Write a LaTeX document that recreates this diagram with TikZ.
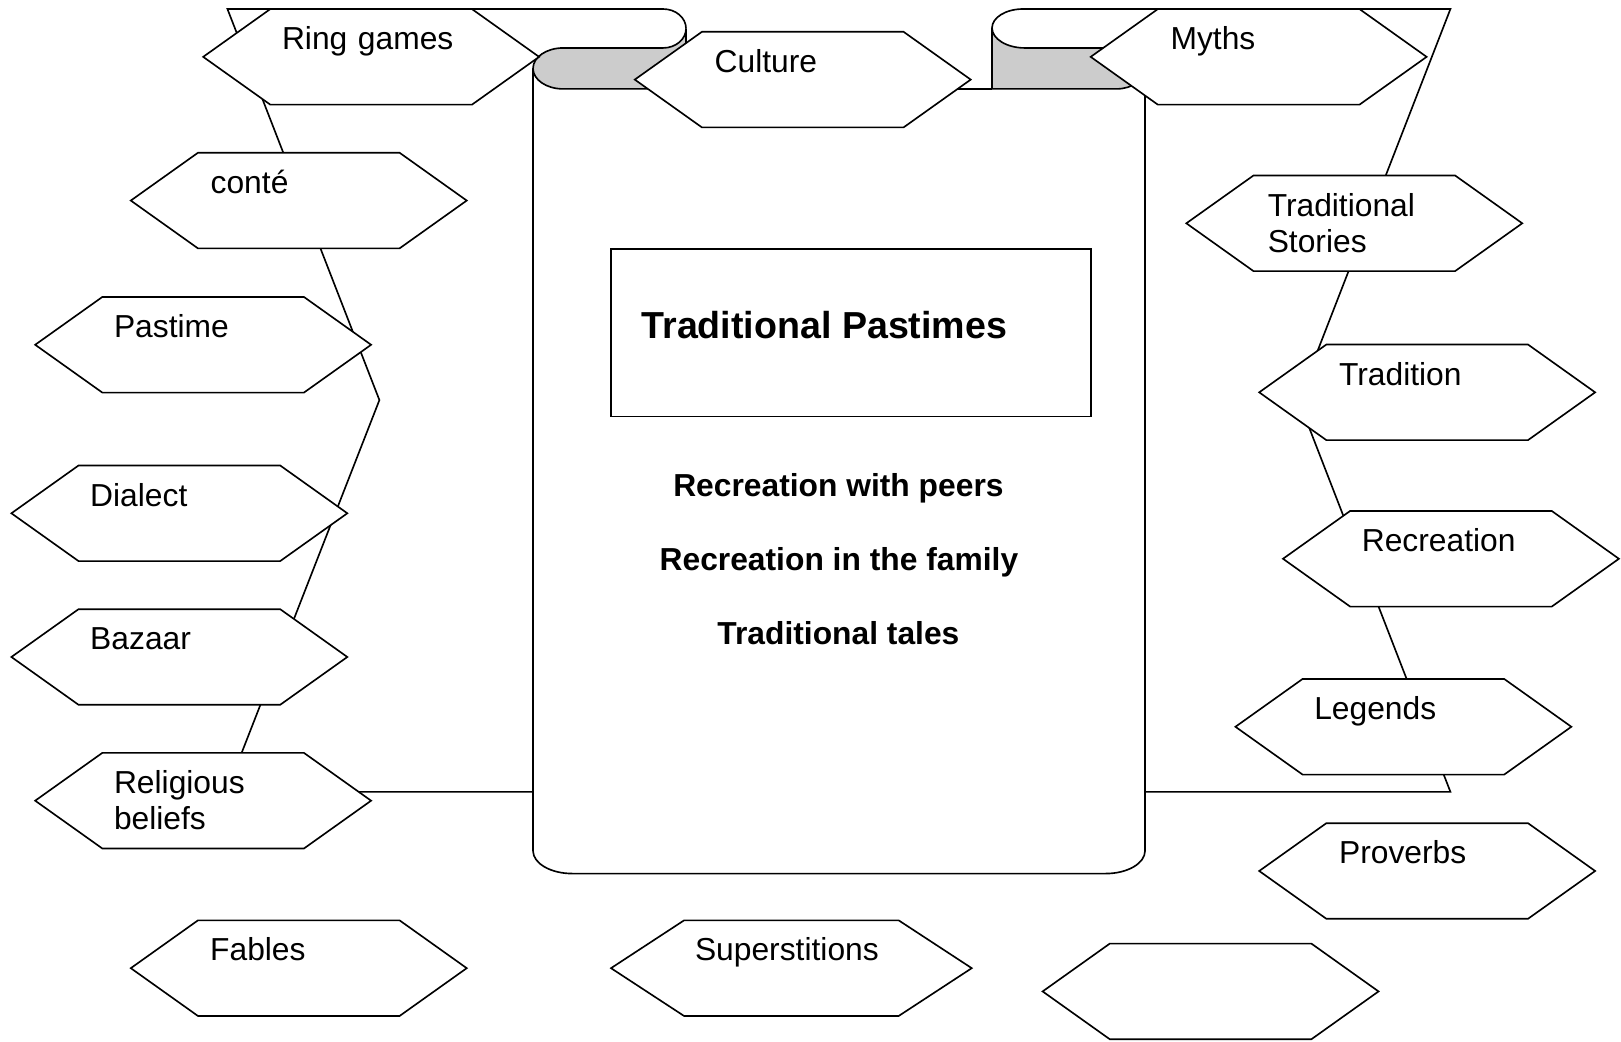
\documentclass[tikz,border=0pt]{standalone}
\usepackage{fontspec}
\setmainfont{Liberation Sans}
\usetikzlibrary{shapes.symbols}

\begin{document}
\begin{tikzpicture}[x=0.02cm,y=-0.02cm,line width=0.9pt,
  hexa/.style={signal,signal to=east and west,signal pointer angle=70.9,
    draw,fill=white,minimum width=6.5cm,minimum height=1.85cm,inner sep=0pt},
  lbl/.style={anchor=base west,inner sep=0pt,text width=6cm,align=left,
    font=\fontsize{17.5}{20}\selectfont},
  bold/.style={anchor=base,inner sep=0pt,font=\fontsize{17.5}{20}\selectfont\bfseries},
  curl/.style={draw,fill=black!20}]
\useasboundingbox (0,0) rectangle (1568,1007);

% the frame behind the scroll
\draw (641.3,8.7) -- (220,8.7) -- (367,387) -- (219,766) -- (515.6,766);
\draw (989.6,8.7) -- (1403,8.7) -- (1256,387) -- (1403,766) -- (1107.6,766);

% scroll
\draw[fill=white] (515.6,66.2) -- (515.6,823) .. controls (515.6,835.1) and (532.6,845) .. (553.6,845)
  -- (1069.6,845) .. controls (1090.6,845) and (1107.6,835.1) .. (1107.6,823) -- (1107.6,66.2);
\draw (663.6,86) -- (959.6,86);
\draw[curl] (544.6,46.4) -- (641.3,46.4) .. controls (653.6,46.4) and (663.6,38) .. (663.6,27.6)
  -- (663.6,86) -- (544.6,86) .. controls (528.6,86) and (515.6,77.1) .. (515.6,66.2)
  .. controls (515.6,55.3) and (528.6,46.4) .. (544.6,46.4) -- cycle;
\draw (641.3,8.7) .. controls (653.6,8.7) and (663.6,17.1) .. (663.6,27.6);
\draw[curl] (959.6,27) .. controls (959.6,37.7) and (973.9,46.4) .. (991.5,46.4) -- (1080,46.4)
  .. controls (1095.2,46.4) and (1107.6,55.3) .. (1107.6,66.2)
  .. controls (1107.6,77.1) and (1095.2,86) .. (1080,86) -- (959.6,86) -- cycle;
\draw (959.6,27) .. controls (959.6,16.9) and (973,8.7) .. (989.6,8.7);

% title and topics
\node[draw,minimum width=9.29cm,minimum height=3.24cm,inner sep=0pt] (titlebox) at (823.2,322) {};
\node[anchor=base west,inner sep=0pt,font=\fontsize{20.7}{24}\selectfont\bfseries] (title)
  at ([shift={(29.5,5.5)}]titlebox.west) {Traditional Pastimes};
\node[bold] (peers) at (811,480) {Recreation with peers};
\node[bold] (family) at (811.5,552) {Recreation in the family};
\node[bold] (tales) at (811,623) {Traditional tales};

% left column
\node[hexa] (ring) at (359,55) {};
\node[lbl] (ring-t) at ([shift={(-87,-7)}]ring.center) {Ring games};
\node[hexa] (conte) at (289,194) {};
\node[lbl] (conte-t) at ([shift={(-86,-7)}]conte.center) {conté};
\node[hexa] (pastime) at (196.5,333.5) {};
\node[lbl] (pastime-t) at ([shift={(-87,-7)}]pastime.center) {Pastime};
\node[hexa] (dialect) at (173.5,496.5) {};
\node[lbl] (dialect-t) at ([shift={(-87,-7)}]dialect.center) {Dialect};
\node[hexa] (bazaar) at (173.5,635.5) {};
\node[lbl] (bazaar-t) at ([shift={(-87,-7)}]bazaar.center) {Bazaar};
\node[hexa] (religion) at (196.5,774.5) {};
\node[lbl] (religion-t) at ([shift={(-87,-7)}]religion.center) {Religious\\beliefs};
\node[hexa] (fables) at (289,936.5) {};
\node[lbl] (fables-t) at ([shift={(-86.5,-7)}]fables.center) {Fables};

% middle
\node[hexa] (culture) at (776.5,77) {};
\node[lbl] (culture-t) at ([shift={(-86,-7)}]culture.center) {Culture};
\node[hexa,minimum width=6.98cm,signal pointer angle=66.4] (superst) at (765.5,936.5) {};
\node[lbl] (superst-t) at ([shift={(-94,-7)}]superst.center) {Superstitions};
\node[hexa] (blank) at (1171,959) {};

% right column
\node[hexa] (myths) at (1217.5,55) {};
\node[lbl] (myths-t) at ([shift={(-86,-7)}]myths.center) {Myths};
\node[hexa] (stories) at (1310,216) {};
\node[lbl] (stories-t) at ([shift={(-84.5,-7)}]stories.center) {Traditional\\Stories};
\node[hexa] (tradition) at (1380.5,379.5) {};
\node[lbl] (tradition-t) at ([shift={(-86,-7)}]tradition.center) {Tradition};
\node[hexa] (recreation) at (1403.5,540.5) {};
\node[lbl] (recreation-t) at ([shift={(-87,-7)}]recreation.center) {Recreation};
\node[hexa] (legends) at (1357.5,703) {};
\node[lbl] (legends-t) at ([shift={(-87,-7)}]legends.center) {Legends};
\node[hexa] (proverbs) at (1380.5,842.5) {};
\node[lbl] (proverbs-t) at ([shift={(-86,-7)}]proverbs.center) {Proverbs};
\end{tikzpicture}
\end{document}
